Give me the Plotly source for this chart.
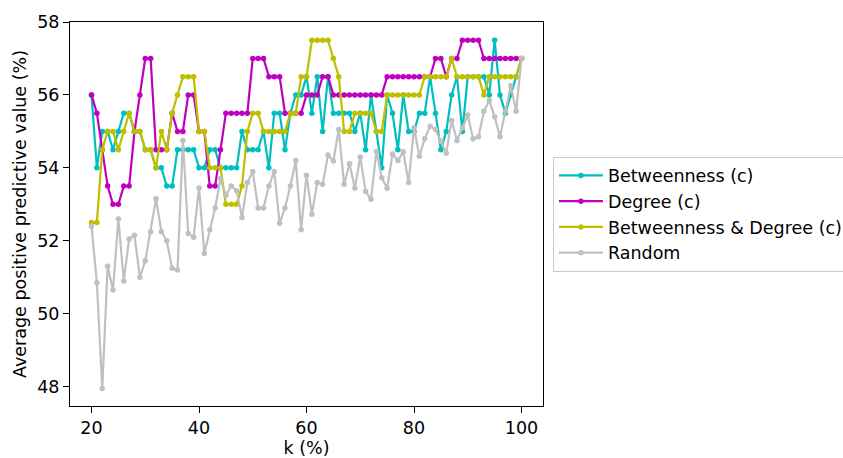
import plotly.graph_objects as go

k = list(range(20, 101))

betweenness = [
    56, 54, 55, 55, 54.5, 55, 55.5, 55.5, 55, 55,
    54.5, 54.5, 54, 54, 53.5, 53.5, 54.5, 54.5, 54.5, 54.5,
    54, 54, 54.5, 54.5, 54, 54, 54, 54, 55, 54.5,
    54.5, 54.5, 55, 54, 55.5, 55.5, 54.5, 55.5, 56, 56,
    56.5, 55.5, 56.5, 55, 56.5, 55.5, 55.5, 55.5, 55.5, 55,
    55.5, 54.5, 56, 55, 54, 56, 55.5, 54.5, 56, 55,
    55, 55.5, 55.5, 56.5, 55.5, 54.5, 55, 56, 56.5, 55,
    56.5, 56.5, 56.5, 56.5, 56, 57.5, 56, 55.5, 56, 56.5,
    57,
]

degree = [
    56, 55.5, 54.5, 53.5, 53, 53, 53.5, 53.5, 55, 56,
    57, 57, 54.5, 54.5, 54.5, 55.5, 55, 55, 56, 56,
    55, 55, 53.5, 53.5, 54.5, 55.5, 55.5, 55.5, 55.5, 55.5,
    57, 57, 57, 56.5, 56.5, 56.5, 55.5, 55.5, 55.5, 55.5,
    56, 56, 56, 56.5, 56.5, 56, 56, 56, 56, 56,
    56, 56, 56, 56, 56, 56.5, 56.5, 56.5, 56.5, 56.5,
    56.5, 56.5, 56.5, 56.5, 57, 57, 56.5, 57, 57, 57.5,
    57.5, 57.5, 57.5, 57, 57, 57, 57, 57, 57, 57,
    57,
]

betw_degree = [
    52.5, 52.5, 54.5, 55, 55, 54.5, 55, 55.5, 55, 55,
    54.5, 54.5, 54, 55, 54.5, 55.5, 56, 56.5, 56.5, 56.5,
    55, 55, 54, 54, 54, 53, 53, 53, 53.5, 55,
    55.5, 55.5, 55, 55, 55, 55, 55, 55.5, 55.5, 56.5,
    56.5, 57.5, 57.5, 57.5, 57.5, 57, 56.5, 55, 55, 55.5,
    55.5, 55.5, 55.5, 55, 55, 56, 56, 56, 56, 56,
    56, 56, 56.5, 56.5, 56.5, 56.5, 56.5, 57, 56.5, 56.5,
    56.5, 56.5, 56.5, 56, 56.5, 56.5, 56.5, 56.5, 56.5, 56.5,
    57,
]

random_vals = [
    52.4, 50.85, 47.95, 51.3, 50.65, 52.6, 50.9, 52.05, 52.15, 51.0,
    51.45, 52.25, 53.15, 52.25, 52.0, 51.25, 51.2, 54.75, 52.2, 52.1,
    53.45, 51.65, 52.3, 52.9, 53.7, 53.25, 53.5, 53.37, 52.64, 53.6,
    53.9, 52.9, 52.9, 53.5, 53.9, 52.48, 52.9, 53.5, 54.2, 52.3,
    53.8, 52.73, 53.6, 53.55, 54.35, 54.19, 55.05, 53.55, 54.11, 53.44,
    54.3, 53.35, 53.14, 54.45, 53.73, 53.44, 54.38, 54.2, 54.44, 53.6,
    55.1, 54.32, 54.8, 55.14, 55.05, 54.73, 54.4, 55.3, 54.75, 55.1,
    55.45, 54.8, 54.85, 55.55, 55.85, 55.4, 54.85, 55.55, 56.25, 55.55,
    57.0,
]

series = [
    ("Betweenness (c)", betweenness, "#00bfbf"),
    ("Degree (c)", degree, "#bf00bf"),
    ("Betweenness & Degree (c)", betw_degree, "#bfbf00"),
    ("Random", random_vals, "#c0c0c0"),
]

FONT = "DejaVu Sans"
fig = go.Figure()
for i, (name, vals, col) in enumerate(series):
    fig.add_trace(go.Scatter(
        x=k, y=vals, name=name, mode="lines+markers",
        line=dict(color=col, width=2.2),
        marker=dict(color=col, size=5.5),
        legendgroup=f"g{i}",
    ))

fig.update_layout(
    width=843, height=458,
    margin=dict(l=70, r=300, t=22, b=52, autoexpand=False),
    paper_bgcolor="white", plot_bgcolor="white",
    font=dict(family=FONT, size=17, color="black"),
    showlegend=True,
    legend=dict(
        x=1.021, xanchor="left", y=0.5, yanchor="middle",
        bgcolor="rgba(255,255,255,0.8)", bordercolor="#cccccc", borderwidth=1,
        font=dict(family=FONT, size=17.5, color="black"),
        tracegroupgap=3, itemwidth=44, traceorder="normal",
    ),
    xaxis=dict(
        range=[16, 104], tickvals=[20, 40, 60, 80, 100],
        ticks="outside", ticklen=6, tickwidth=1, tickcolor="black",
        showline=True, linecolor="black", linewidth=1, mirror=True,
        showgrid=False, zeroline=False,
        title=dict(text="k (%)", standoff=4, font=dict(family=FONT, size=17.5)),
        tickfont=dict(family=FONT, size=17.5),
    ),
    yaxis=dict(
        range=[47.47, 58.0], tickvals=[48, 50, 52, 54, 56, 58],
        ticks="outside", ticklen=6, tickwidth=1, tickcolor="black",
        showline=True, linecolor="black", linewidth=1, mirror=True,
        showgrid=False, zeroline=False,
        title=dict(text="Average positive predictive value (%)", standoff=6,
                   font=dict(family=FONT, size=17.5)),
        tickfont=dict(family=FONT, size=17.5),
    ),
)

fig.write_html("out.html")
